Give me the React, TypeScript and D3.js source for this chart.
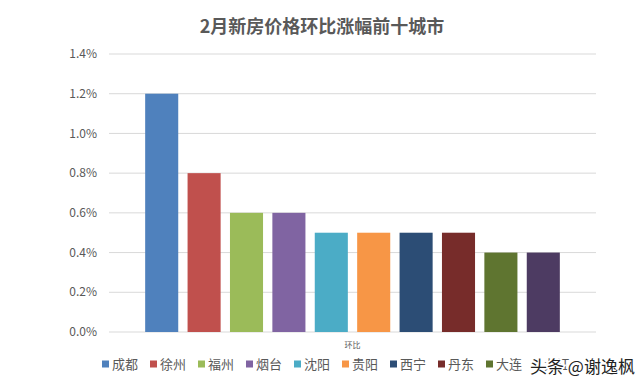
import React from 'react';
import * as d3 from 'd3';

// data
const cities = ['成都', '徐州', '福州', '烟台', '沈阳', '贵阳', '西宁', '丹东', '大连', '九江'];
const values = [1.2, 0.8, 0.6, 0.6, 0.5, 0.5, 0.5, 0.5, 0.4, 0.4];
const colors = ['#4F81BD', '#C0504D', '#9BBB59', '#8064A2', '#4BACC6', '#F79646', '#2C4D75', '#772C2A', '#5F7530', '#4D3B62'];
const yTicks = [0, 0.2, 0.4, 0.6, 0.8, 1.0, 1.2, 1.4];
const category = ['环比'];
const title = '2月新房价格环比涨幅前十城市';

export default function App() {
  const width = 641;
  const height = 389;
  const left = 109;
  const right = 596;
  const top = 54;
  const bottom = 332;

  const y = d3.scaleLinear().domain([0, 1.4]).range([bottom, top]);
  const x0 = d3.scaleBand().domain(category).range([left, right]).paddingOuter(0.0743).paddingInner(0);
  const x1 = d3.scaleBand()
    .domain(cities)
    .range([x0('环比')!, x0('环比')! + x0.bandwidth()])
    .paddingInner(0.22)
    .paddingOuter(0.11);

  const font = '"Noto Sans CJK SC", "Noto Sans", sans-serif';
  const grey = '#595959';

  let legendX = 102;

  return (
    <svg width={width} height={height} style={{ position: 'absolute', left: 0, top: 0, background: '#fff' }}>
      <text x={322} y={33} textAnchor="middle" fontFamily={font} fontWeight="bold" fontSize={18} fill={grey}>
        {title}
      </text>

      <g>
        {yTicks.map((t) => (
          <g key={t}>
            <line x1={left} x2={right} y1={y(t)} y2={y(t)} stroke="#d9d9d9" strokeWidth={1} />
            <text x={97} y={y(t)} dy="0.35em" textAnchor="end" fontFamily={font} fontSize={12} fill={grey}>
              {d3.format('.1f')(t) + '%'}
            </text>
          </g>
        ))}
      </g>

      <g>
        {cities.map((c, i) => (
          <rect key={c} x={x1(c)} y={y(values[i])} width={x1.bandwidth()} height={bottom - y(values[i])} fill={colors[i]} />
        ))}
      </g>

      <text x={x0('环比')! + x0.bandwidth() / 2} y={348} textAnchor="middle" fontFamily={font} fontSize={8} fill={grey}>
        {category[0]}
      </text>

      <g>
        {cities.map((c, i) => {
          const lx = legendX;
          legendX += 48;
          return (
            <g key={c} transform={`translate(${lx},364)`}>
              <rect x={0} y={-3.5} width={7} height={7} fill={colors[i]} />
              <text x={10} y={0} dy="0.35em" fontFamily={font} fontSize={13} fill={grey}>{c}</text>
            </g>
          );
        })}
      </g>

      {/* watermark, sits over the last legend entry like in the source image */}
      <text x={530} y={373} fontFamily={font} fontSize={17} fill="#222" stroke="#fff" strokeWidth={3} paintOrder="stroke">
        头条 @谢逸枫
      </text>
    </svg>
  );
}
